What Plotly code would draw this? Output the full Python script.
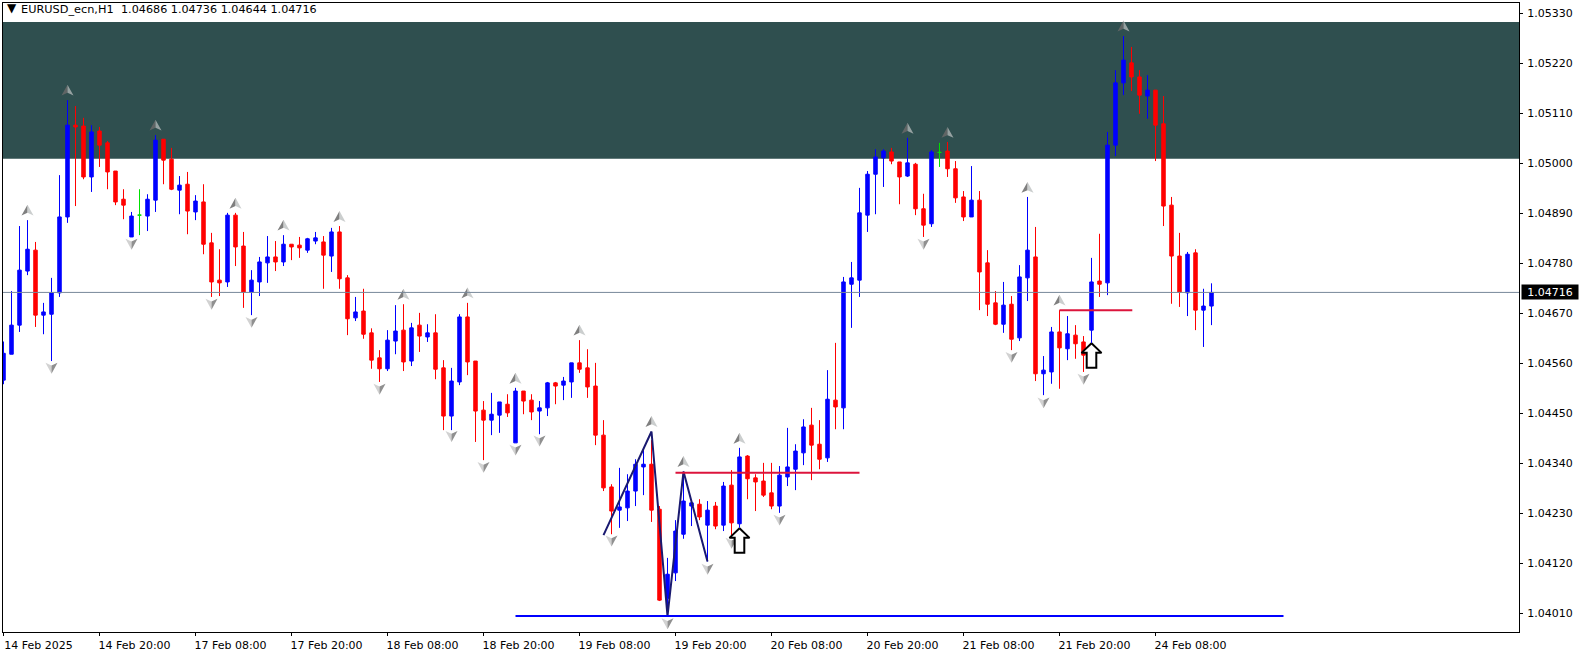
import plotly.graph_objects as go

# ---------- candles (blue = up, red = down, green = doji) ----------
opens = [
 1.04523,1.04580,1.04644,1.04763,1.04809,1.04666,1.04668,1.04715,1.04882,1.05084,
 1.05082,1.04970,1.05071,1.05045,1.04983,1.04921,1.04838,1.04886,1.04884,1.04919,
 1.05053,1.05009,1.04941,1.04954,1.04893,1.04915,1.04825,1.04743,1.04739,1.04886,
 1.04818,1.04717,1.04739,1.04781,1.04794,1.04783,1.04822,1.04820,1.04809,1.04829,
 1.04827,1.04796,1.04849,1.04748,1.04660,1.04675,1.04627,1.04572,1.04548,1.04609,
 1.04633,1.04565,1.04644,1.04618,1.04627,1.04550,1.04444,1.04519,1.04662,1.04565,
 1.04457,1.04435,1.04446,1.04470,1.04385,1.04499,1.04479,1.04455,1.04462,1.04517,
 1.04512,1.04519,1.04561,1.04550,1.04510,1.04402,1.04288,1.04237,1.04242,1.04279,
 1.04332,1.04338,1.04239,1.04043,1.04099,1.04184,1.04246,1.04250,1.04204,1.04246,
 1.04204,1.04292,1.04207,1.04356,1.04308,1.04301,1.04275,1.04246,1.04310,1.04327,
 1.04363,1.04424,1.04382,1.04352,1.04479,1.04462,1.04734,1.04743,1.04886,1.04976,
 1.05012,1.05025,1.05003,1.04972,1.04998,1.04900,1.04867,1.05024,1.05027,1.04988,
 1.04926,1.04882,1.04919,1.04781,1.04693,1.04646,1.04690,1.04616,1.04748,1.04794,
 1.04537,1.04541,1.04629,1.04592,1.04622,1.04607,1.04633,1.04741,1.04737,1.05040,
 1.05177,1.05221,1.05190,1.05148,1.05161,1.05087,1.04908,1.04796,1.04715,1.04803,
 1.04677,1.04686]
highs = [
 1.04608,1.04719,1.04862,1.04875,1.04827,1.04693,1.04748,1.04974,1.05139,1.05126,
 1.05100,1.05084,1.05080,1.05049,1.04983,1.04943,1.04893,1.04943,1.04932,1.05062,
 1.05053,1.05034,1.04972,1.04981,1.04930,1.04954,1.04847,1.04811,1.04891,1.04891,
 1.04849,1.04765,1.04794,1.04840,1.04829,1.04842,1.04822,1.04838,1.04836,1.04849,
 1.04840,1.04858,1.04862,1.04754,1.04706,1.04724,1.04637,1.04589,1.04633,1.04688,
 1.04690,1.04649,1.04671,1.04646,1.04668,1.04567,1.04550,1.04668,1.04693,1.04565,
 1.04477,1.04495,1.04475,1.04492,1.04506,1.04499,1.04492,1.04477,1.04519,1.04519,
 1.04530,1.04561,1.04611,1.04591,1.04561,1.04435,1.04294,1.04330,1.04316,1.04349,
 1.04369,1.04391,1.04246,1.04132,1.04215,1.04322,1.04259,1.04261,1.04257,1.04255,
 1.04299,1.04325,1.04374,1.04358,1.04316,1.04341,1.04341,1.04334,1.04418,1.04382,
 1.04437,1.04462,1.04435,1.04545,1.04605,1.04750,1.04783,1.04946,1.04983,1.05031,
 1.05031,1.05034,1.05003,1.05056,1.05001,1.04933,1.05029,1.05045,1.05047,1.05005,
 1.04939,1.04994,1.04939,1.04809,1.04719,1.04739,1.04708,1.04776,1.04926,1.04860,
 1.04576,1.04640,1.04677,1.04664,1.04644,1.04620,1.04792,1.04845,1.05069,1.05205,
 1.05280,1.05256,1.05205,1.05194,1.05161,1.05148,1.04926,1.04847,1.04805,1.04811,
 1.04724,1.04736]
lows = [
 1.04514,1.04580,1.04629,1.04754,1.04640,1.04624,1.04565,1.04706,1.04869,1.04906,
 1.04965,1.04937,1.04992,1.04943,1.04908,1.04877,1.04838,1.04842,1.04851,1.04893,
 1.04954,1.04941,1.04888,1.04844,1.04875,1.04800,1.04706,1.04708,1.04728,1.04774,
 1.04682,1.04666,1.04708,1.04737,1.04763,1.04774,1.04787,1.04792,1.04803,1.04822,
 1.04724,1.04761,1.04724,1.04622,1.04653,1.04614,1.04548,1.04519,1.04543,1.04580,
 1.04543,1.04554,1.04585,1.04607,1.04525,1.04413,1.04413,1.04512,1.04534,1.04387,
 1.04347,1.04402,1.04407,1.04442,1.04385,1.04448,1.04435,1.04404,1.04444,1.04470,
 1.04479,1.04484,1.04539,1.04484,1.04380,1.04279,1.04184,1.04198,1.04213,1.04246,
 1.04270,1.04211,1.04037,1.04004,1.04081,1.04174,1.04202,1.04215,1.04124,1.04195,
 1.04191,1.04182,1.04198,1.04261,1.04235,1.04266,1.04239,1.04231,1.04290,1.04281,
 1.04336,1.04303,1.04327,1.04343,1.04415,1.04415,1.04638,1.04706,1.04849,1.04888,
 1.04948,1.04998,1.04910,1.04970,1.04886,1.04838,1.04860,1.04992,1.04970,1.04913,
 1.04873,1.04882,1.04677,1.04664,1.04644,1.04627,1.04589,1.04609,1.04697,1.04521,
 1.04490,1.04515,1.04504,1.04567,1.04570,1.04541,1.04604,1.04706,1.04710,1.05016,
 1.05150,1.05159,1.05109,1.05098,1.05005,1.04862,1.04691,1.04684,1.04664,1.04633,
 1.04596,1.04644]
closes = [
 1.04582,1.04644,1.04765,1.04811,1.04666,1.04673,1.04715,1.04882,1.05084,1.05080,
 1.04970,1.05069,1.05040,1.04981,1.04915,1.04908,1.04884,1.04886,1.04921,1.05051,
 1.05007,1.04943,1.04952,1.04895,1.04917,1.04822,1.04739,1.04737,1.04886,1.04816,
 1.04717,1.04743,1.04783,1.04794,1.04783,1.04822,1.04816,1.04814,1.04834,1.04836,
 1.04798,1.04849,1.04746,1.04658,1.04673,1.04624,1.04567,1.04548,1.04611,1.04631,
 1.04563,1.04638,1.04620,1.04627,1.04547,1.04444,1.04521,1.04662,1.04563,1.04455,
 1.04435,1.04448,1.04475,1.04451,1.04499,1.04477,1.04453,1.04462,1.04517,1.04510,
 1.04521,1.04561,1.04547,1.04508,1.04402,1.04286,1.04235,1.04244,1.04279,1.04338,
 1.04338,1.04237,1.04039,1.04096,1.04191,1.04257,1.04253,1.04222,1.04237,1.04202,
 1.04290,1.04209,1.04354,1.04306,1.04299,1.04270,1.04246,1.04314,1.04332,1.04367,
 1.04420,1.04380,1.04349,1.04481,1.04464,1.04739,1.04748,1.04891,1.04976,1.05014,
 1.05027,1.05005,1.04970,1.05001,1.04900,1.04864,1.05025,1.05024,1.04988,1.04924,
 1.04882,1.04919,1.04761,1.04690,1.04646,1.04688,1.04613,1.04750,1.04809,1.04537,
 1.04545,1.04629,1.04594,1.04625,1.04603,1.04578,1.04739,1.04734,1.05040,1.05177,
 1.05227,1.05190,1.05150,1.05161,1.05084,1.04906,1.04796,1.04717,1.04800,1.04677,
 1.04686,1.04716]
doji_idx = [17, 117]

# ---------- fractal arrows ----------
up_idx = [3,8,19,29,35,42,50,58,64,72,81,85,92,113,118,128,132,140]
up_price = [1.04897,1.05161,1.05084,1.04912,1.04864,1.04883,1.04712,1.04715,1.04527,
            1.04633,1.04432,1.04344,1.04395,1.05077,1.05068,1.04947,1.04699,1.05302]
down_idx = [6,16,26,31,47,56,60,64,67,76,83,88,91,97,115,126,130,135]
down_price = [1.04549,1.04822,1.04690,1.04650,1.04503,1.04399,1.04331,1.04369,1.04389,
              1.04169,1.03987,1.04107,1.04164,1.04215,1.04822,1.04573,1.04473,1.04525]

# ---------- drawn lines ----------
zigzag_idx = [75, 81, 83, 85, 88]
zigzag_price = [1.04182, 1.04410, 1.04004, 1.04322, 1.04124]
red_a_idx = [84, 107]
red_a_price = [1.04319, 1.04319]
red_b_idx = [132, 141.1]
red_b_price = [1.04677, 1.04677]
blue_idx = [64, 160]
blue_price = [1.04004, 1.04004]

# ---------- hollow signal arrows ----------
signal_idx = [92, 136]
signal_tip = [1.04197, 1.04604]

# ---------- zone and last price ----------
zone_top = 1.05311
zone_bottom = 1.05010
last_price = 1.04716

# ---------- axis labels ----------
y_ticks = [1.05330,1.05220,1.05110,1.05000,1.04890,1.04780,1.04670,1.04560,1.04450,1.04340,1.04230,1.04120,1.04010]
x_tick_idx = [0,12,24,36,48,60,72,84,96,108,120,132,144]
x_tick_text = ["14 Feb 2025","14 Feb 20:00","17 Feb 08:00","17 Feb 20:00","18 Feb 08:00","18 Feb 20:00",
               "19 Feb 08:00","19 Feb 20:00","20 Feb 08:00","20 Feb 20:00","21 Feb 08:00","21 Feb 20:00","24 Feb 08:00"]

FONT = "DejaVu Sans"
fig = go.Figure()

idx = list(range(len(opens)))
normal = [i for i in idx if i not in doji_idx]

def pick(a, ii):
    return [a[i] for i in ii]

fig.add_trace(go.Candlestick(
    x=normal, open=pick(opens, normal), high=pick(highs, normal),
    low=pick(lows, normal), close=pick(closes, normal),
    whiskerwidth=0,
    increasing=dict(line=dict(color="#0000FF", width=1), fillcolor="#0000FF"),
    decreasing=dict(line=dict(color="#FF0000", width=1), fillcolor="#FF0000"),
    showlegend=False, hoverinfo="skip"))
fig.add_trace(go.Candlestick(
    x=doji_idx, open=pick(opens, doji_idx), high=pick(highs, doji_idx),
    low=pick(lows, doji_idx), close=pick(closes, doji_idx),
    whiskerwidth=0,
    increasing=dict(line=dict(color="#00E000", width=1), fillcolor="#00E000"),
    decreasing=dict(line=dict(color="#00E000", width=1), fillcolor="#00E000"),
    showlegend=False, hoverinfo="skip"))

# two-tone arrowheads, sized in axis units
W, H = 0.75, 0.00024

def heads(ii, pp, side, sign):
    xs, ys = [], []
    for i, p in zip(ii, pp):
        tip = p + sign * H / 2
        base = p - sign * H / 2
        notch = p - sign * H / 4
        xs += [i, i + side * W, i, i, None]
        ys += [tip, base, notch, tip, None]
    return xs, ys

for ii, pp, side, sign, col in [
    (up_idx, up_price, -1, 1, "rgba(105,105,105,0.85)"),
    (up_idx, up_price, 1, 1, "rgba(185,190,190,0.75)"),
    (down_idx, down_price, -1, -1, "rgba(195,195,195,0.75)"),
    (down_idx, down_price, 1, -1, "rgba(125,125,125,0.85)"),
]:
    xs, ys = heads(ii, pp, side, sign)
    fig.add_trace(go.Scatter(x=xs, y=ys, mode="lines", fill="toself", fillcolor=col,
                             line=dict(width=0), showlegend=False, hoverinfo="skip"))

fig.add_trace(go.Scatter(x=zigzag_idx, y=zigzag_price, mode="lines",
                         line=dict(color="#191970", width=2), showlegend=False, hoverinfo="skip"))
for xx, yy in [(red_a_idx, red_a_price), (red_b_idx, red_b_price)]:
    fig.add_trace(go.Scatter(x=xx, y=yy, mode="lines", line=dict(color="#DC143C", width=2),
                             showlegend=False, hoverinfo="skip"))
fig.add_trace(go.Scatter(x=blue_idx, y=blue_price, mode="lines", line=dict(color="#0000FF", width=2),
                         showlegend=False, hoverinfo="skip"))

# hollow arrows
AW, SW, HH, TH = 1.25, 0.6, 0.00021, 0.00054
for i, t in zip(signal_idx, signal_tip):
    fig.add_trace(go.Scatter(
        x=[i, i + AW, i + SW, i + SW, i - SW, i - SW, i - AW, i],
        y=[t, t - HH, t - HH, t - TH, t - TH, t - HH, t - HH, t],
        mode="lines", fill="toself", fillcolor="#FFFFFF",
        line=dict(color="#000000", width=2), showlegend=False, hoverinfo="skip"))

shapes = [
    dict(type="rect", xref="paper", x0=0, x1=1, yref="y", y0=zone_bottom, y1=zone_top,
         fillcolor="#2F4F4F", line=dict(width=0), layer="below"),
    dict(type="line", xref="paper", x0=0, x1=1, yref="y", y0=last_price, y1=last_price,
         line=dict(color="#778899", width=1), layer="above"),
]

annotations = [
    dict(xref="paper", yref="paper", x=0.0015, y=1.0, yshift=-5, xanchor="left", yanchor="middle",
         text="▼", showarrow=False, font=dict(family=FONT, size=12, color="#000000")),
    dict(xref="paper", yref="paper", x=0.0103, y=1.0, yshift=-6, xanchor="left", yanchor="middle",
         text="EURUSD_ecn,H1", showarrow=False, font=dict(family=FONT, size=11.3, color="#000000")),
    dict(xref="paper", yref="paper", x=0.0768, y=1.0, yshift=-6, xanchor="left", yanchor="middle",
         text="1.04686 1.04736 1.04644 1.04716", showarrow=False,
         font=dict(family=FONT, size=11.2, color="#000000")),
    dict(xref="paper", yref="y", x=1.0, xshift=2, y=last_price, xanchor="left", yanchor="middle",
         text="1.04716", showarrow=False, bgcolor="#000000", width=56, height=14, align="center",
         borderpad=0, font=dict(family=FONT, size=11, color="#FFFFFF")),
]

axis_font = dict(family=FONT, size=11, color="#000000")
fig.update_layout(
    width=1583, height=656,
    margin=dict(l=3, r=64, t=3, b=24, pad=0),
    paper_bgcolor="#FFFFFF", plot_bgcolor="#FFFFFF",
    boxgap=0.38, showlegend=False,
    shapes=shapes, annotations=annotations,
    xaxis=dict(type="linear", range=[-0.0625, 189.4375], rangeslider=dict(visible=False),
               tickmode="array", tickvals=x_tick_idx, ticktext=x_tick_text,
               ticks="outside", ticklen=3, tickwidth=1, tickcolor="#000000",
               showgrid=False, zeroline=False, showline=True, linecolor="#000000", linewidth=1,
               mirror=True, tickfont=axis_font, tickangle=0, ticklabelshift=35, ticklabelstandoff=0),
    yaxis=dict(side="right", range=[1.039689, 1.053527],
               tickmode="array", tickvals=y_ticks, ticktext=[f"{v:.5f}" for v in y_ticks],
               ticks="outside", ticklen=3, tickwidth=1, tickcolor="#000000",
               showgrid=False, zeroline=False, showline=True, linecolor="#000000", linewidth=1,
               mirror=True, tickfont=axis_font, ticklabelstandoff=2),
)

fig.write_html("out.html", config=dict(displayModeBar=False),
               post_script="document.body.style.margin='0';document.body.style.overflow='hidden';")
